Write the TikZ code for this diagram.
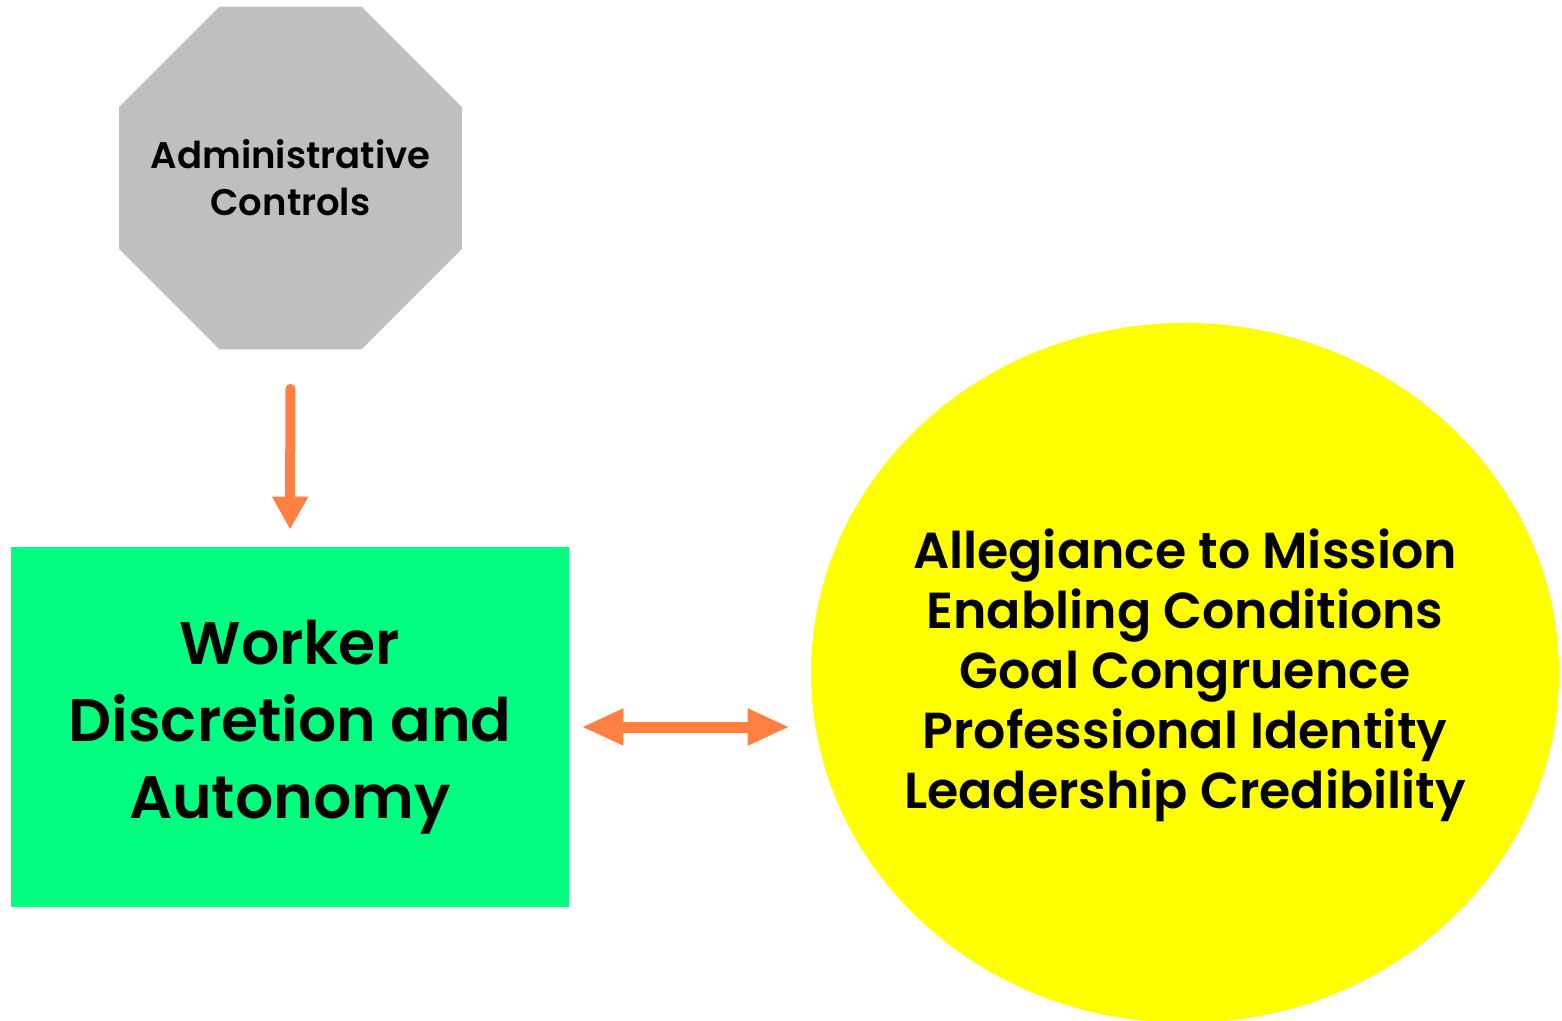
\documentclass[tikz,border=0pt]{standalone}
\usepackage{fontspec}
\setmainfont{Poppins}[BoldFont={* SemiBold}]
\usetikzlibrary{shapes,arrows.meta,positioning,calc}
\definecolor{octgray}{HTML}{BFBFBF}
\definecolor{boxgreen}{HTML}{00FF80}
\definecolor{sunyellow}{HTML}{FFFF00}
\definecolor{linkorange}{HTML}{FF8040}
\tikzset{
octa/.style = {regular polygon, regular polygon sides=8, fill=octgray, inner sep=0pt, minimum size=185.6pt},
block/.style = {rectangle, fill=boxgreen, inner sep=0pt, minimum width=279pt, minimum height=180pt, align=center, font=\fontsize{30}{38.5}\selectfont\bfseries},
bubble/.style = {ellipse, fill=sunyellow, inner sep=0pt, minimum width=374pt, minimum height=350pt},
txt/.style = {align=center, inner sep=0pt},
link/.style = {draw=linkorange, line width=5pt, line cap=round, -{Triangle[length=16.5pt,width=17pt]}},
twoway/.style = {draw=linkorange, line width=5.5pt, {Triangle[length=21pt,width=17pt]}-{Triangle[length=21pt,width=17pt]}}
}
\begin{document}
\begin{tikzpicture}[x=0.5pt,y=-0.5pt]
   \useasboundingbox (0,0) rectangle (1562,1021);
   \node [octa] (adm) at (290.5,178) {};
   \node [txt, font=\fontsize{18.5}{23.5}\selectfont\bfseries] (admtxt) at (adm) {Administrative\\Controls};
   \node [block] (wrk) at (290,727) {Worker\\Discretion and\\Autonomy};
   \node [bubble] (ell) at (1185,673) {};
   \node [txt, font=\fontsize{25.3}{30}\selectfont\bfseries] (elltxt) at (1185,675) {Allegiance to Mission\\Enabling Conditions\\Goal Congruence\\Professional Identity\\Leadership Credibility};
   % arrows between the shapes
   \draw [link, shorten <=19.5pt, shorten >=8.5pt] (adm.south) -- (wrk.north);
   \draw [twoway, shorten <=6pt, shorten >=10.5pt] (wrk.east) -- (wrk.east -| ell.west);
\end{tikzpicture}
\end{document}
